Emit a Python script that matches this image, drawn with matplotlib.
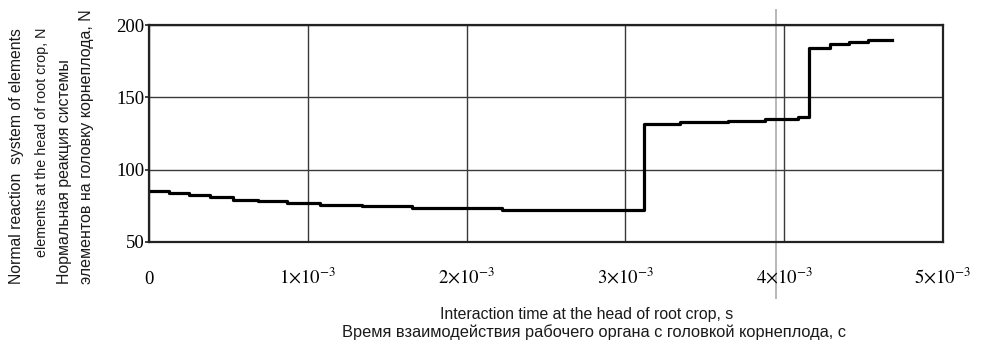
import numpy as np
import matplotlib
matplotlib.use('Agg')
import matplotlib.pyplot as plt

# step start times (s) and normal reaction values (N)
t = np.array([0, 0.126, 0.252, 0.384, 0.529, 0.686, 0.869, 1.077, 1.341, 1.656,
              2.223, 3.117, 3.344, 3.646, 3.879, 4.087, 4.156, 4.288, 4.408,
              4.528, 4.679]) * 1e-3
force = [85.3, 84.0, 82.3, 80.9, 79.3, 78.2, 77.0, 75.8, 74.7, 73.3,
         72.2, 131.6, 132.7, 133.7, 135.0, 136.2, 184.3, 186.6, 188.0,
         189.6, 189.6]

x_ticks = [0, 1e-3, 2e-3, 3e-3, 4e-3, 5e-3]
x_labels = ['0', r'$1{\times}10^{-3}$', r'$2{\times}10^{-3}$',
            r'$3{\times}10^{-3}$', r'$4{\times}10^{-3}$', r'$5{\times}10^{-3}$']
y_ticks = [50, 100, 150, 200]
cursor_t = 3.95e-3

xlabel_lines = ['Interaction time at the head of root crop, s',
                'Время взаимодействия рабочего органа с головкой корнеплода, с']
ylabel_lines = ['Normal reaction  system of elements',
                'elements at the head of root crop, N',
                'Нормальная реакция системы',
                'элементов на головку корнеплода, N']

# label placement in pixels: (centre x, centre y from top, length)
xlabel_pos = [(587, 315, 296), (594, 332, 505)]
ylabel_pos = [(17, 156, 257), (42, 142, 229), (65, 172, 225), (87, 147, 275)]

plt.rcParams['mathtext.fontset'] = 'stix'
serif = ['Liberation Serif', 'DejaVu Serif']
sans = ['Liberation Sans', 'DejaVu Sans']

W, H = 983, 342
fig = plt.figure(figsize=(W / 100, H / 100), dpi=100, facecolor='white')
ax = fig.add_axes([149 / W, 1 - 242 / H, 794 / W, 217 / H])

ax.step(t, force, where='post', color='black', linewidth=2.3)

ax.set_xlim(0, 5e-3)
ax.set_ylim(50, 200)
ax.set_xticks(x_ticks)
ax.set_xticklabels(x_labels)
ax.set_yticks(y_ticks)
ax.grid(True, color='#3a3a3a', linewidth=1.0)

for lbl in ax.get_xticklabels() + ax.get_yticklabels():
    lbl.set_fontfamily(serif)
    lbl.set_fontsize(13.5)
for lbl in ax.get_xticklabels():
    lbl.set_verticalalignment('baseline')

ax.tick_params(axis='x', length=0, pad=30)
ax.tick_params(axis='y', length=3, width=1.2, direction='out', pad=0.5, color='#222222')

for sp in ax.spines.values():
    sp.set_color('#222222')
    sp.set_linewidth(1.6)

# grey cursor line of the original worksheet
ax.axvline(cursor_t, ymin=-0.258, ymax=1.069, color='#b8b8b8', linewidth=1.4,
           clip_on=False, zorder=0)


def fit_text(s, cx, cy, length, rot):
    txt = fig.text(cx / W, 1 - cy / H, s, ha='center', va='center',
                   rotation=rot, fontsize=10, family=sans, color='#1a1a1a')
    bb = txt.get_window_extent(fig.canvas.get_renderer())
    size = bb.height if rot else bb.width
    txt.set_fontsize(min(max(10 * length / size, 9), 14))
    return txt


for s, (cx, cy, ln) in zip(xlabel_lines, xlabel_pos):
    fit_text(s, cx, cy, ln, 0)
for s, (cx, cy, ln) in zip(ylabel_lines, ylabel_pos):
    fit_text(s, cx, cy, ln, 90)

fig.savefig('out.png', dpi=100, facecolor='white')
